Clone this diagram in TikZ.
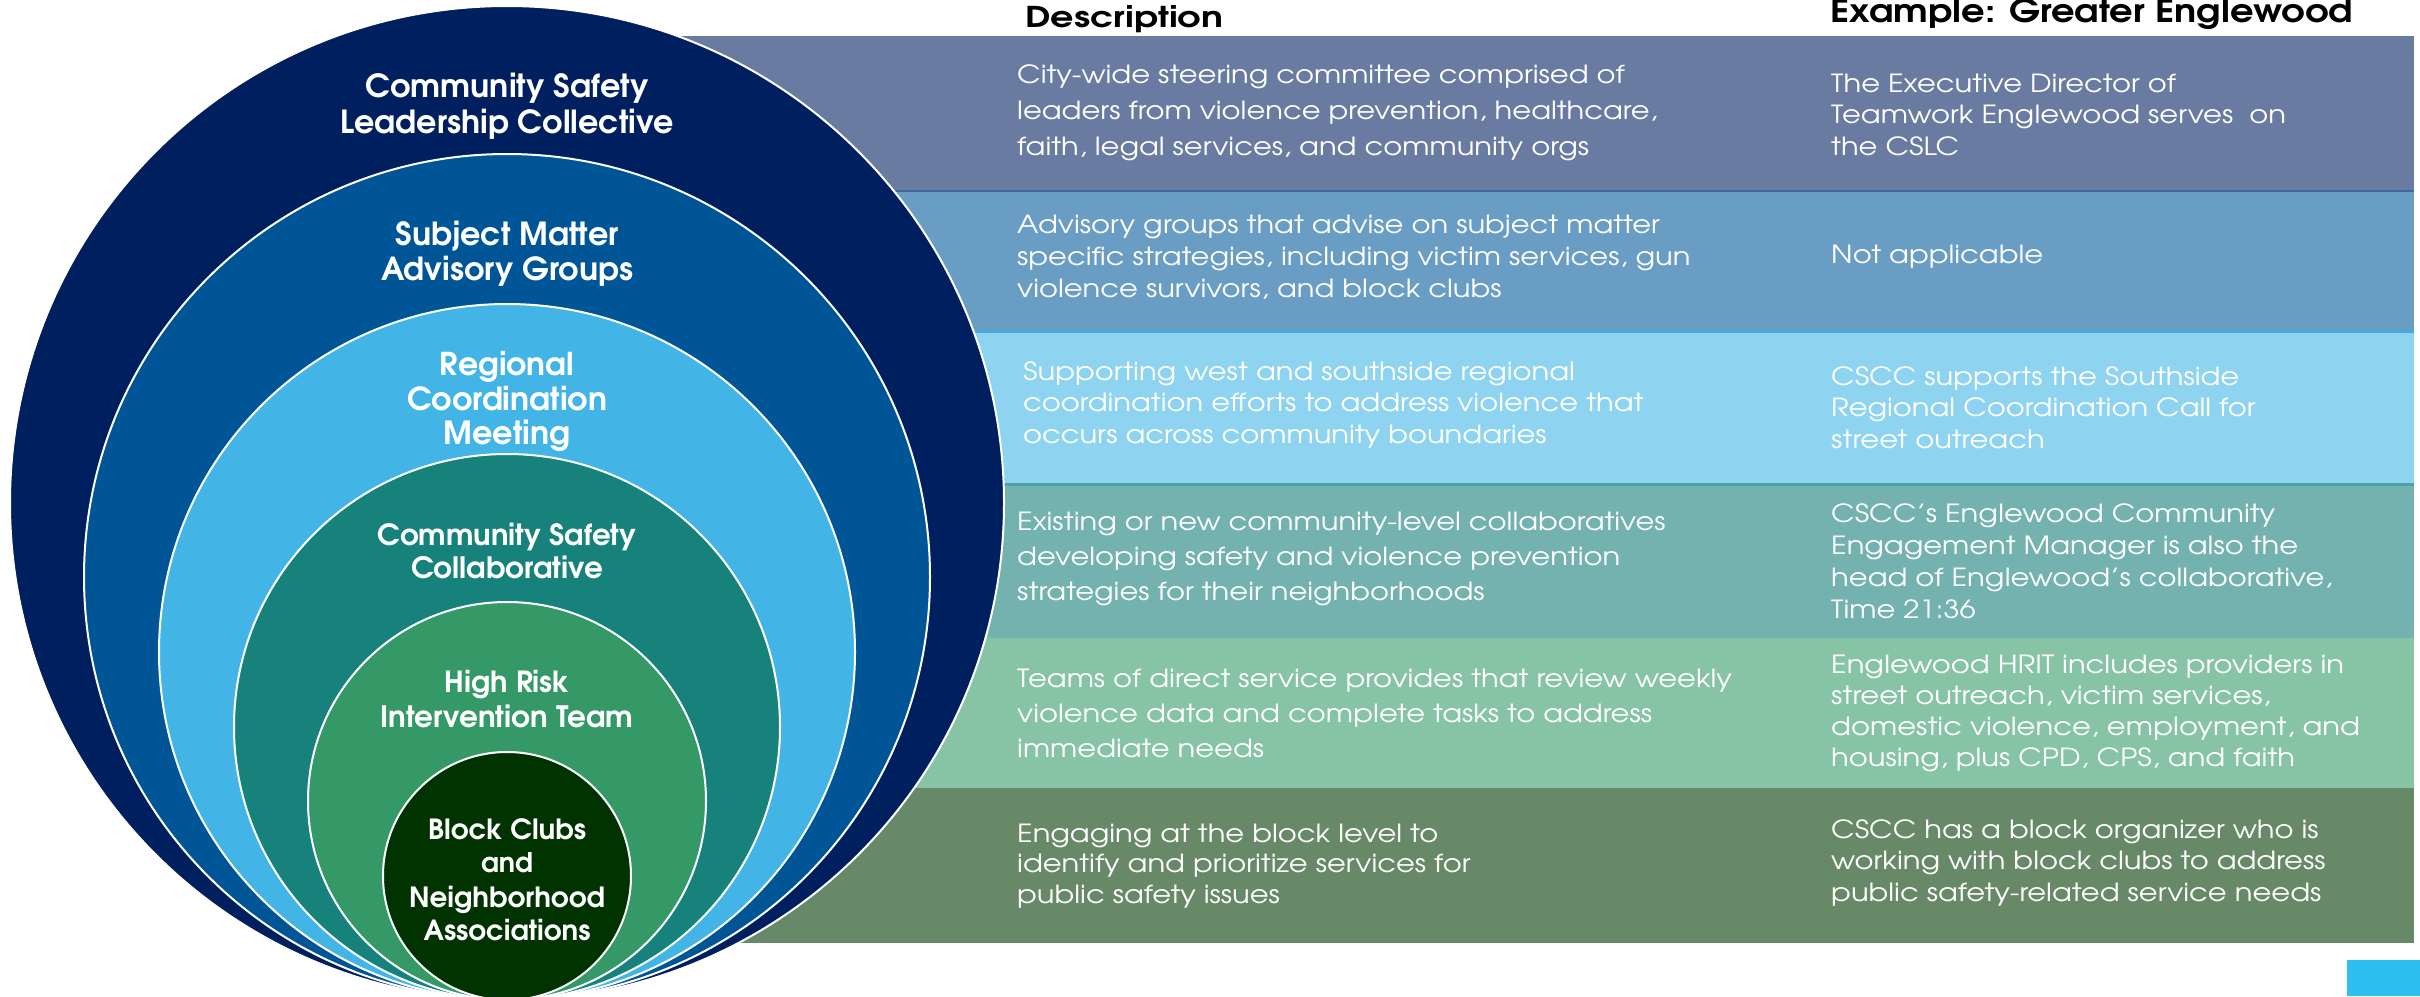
\documentclass[tikz,border=0pt]{standalone}
\usepackage{graphicx}
\usepackage{fontspec}
\setmainfont{texgyreadventor}[Extension=.otf, UprightFont=*-regular, BoldFont=*-bold, ItalicFont=*-italic, BoldItalicFont=*-bolditalic]
\newfontfamily\bodyfont{texgyreadventor}[Extension=.otf, UprightFont=*-regular, BoldFont=*-bold, FakeStretch=1.16]
\newcommand\fitw[2]{\resizebox{#1pt}{!}{#2}}
\newcommand\fitwh[3]{\resizebox{#1pt}{#2pt}{#3}}
\definecolor{cA}{HTML}{001F5E}
\definecolor{cB}{HTML}{005597}
\definecolor{cC}{HTML}{42B4E6}
\definecolor{cD}{HTML}{17827B}
\definecolor{cE}{HTML}{349966}
\definecolor{cF}{HTML}{003300}
\definecolor{bA}{HTML}{6A7BA1}
\definecolor{bB}{HTML}{699DC4}
\definecolor{bC}{HTML}{8ED4F1}
\definecolor{bD}{HTML}{73B2AF}
\definecolor{bE}{HTML}{87C4A5}
\definecolor{bF}{HTML}{688968}
\definecolor{lAB}{HTML}{41699B}
\definecolor{lBC}{HTML}{45ABDD}
\definecolor{lCD}{HTML}{4CA0A8}
\definecolor{sq}{HTML}{2CBFF0}
\begin{document}
\begin{tikzpicture}[x=1pt,y=-1pt,
  ring/.style={draw=white, line width=2pt},
  lbl/.style={text=white, font=\bfseries\fontsize{31}{36}\selectfont, anchor=base, inner sep=0pt},
  dtxt/.style={text=white, font=\bodyfont\fontsize{25}{30}\selectfont, anchor=base west, inner sep=0pt},
  hdr/.style={text=black, font=\bfseries\fontsize{30}{36}\selectfont, anchor=base west, inner sep=0pt}]
\useasboundingbox (0,0) rectangle (2420,996);
\fill[white] (0,0) rectangle (2420,996);
% bands
\fill[bA] (600,36) rectangle (2414,191);
\fill[bB] (600,191) rectangle (2414,331);
\fill[bC] (600,331) rectangle (2414,484);
\fill[bD] (600,484) rectangle (2414,638);
\fill[bE] (600,638) rectangle (2414,788);
\fill[bF] (600,788) rectangle (2414,943);
\draw[lAB, line width=2pt] (600,191) -- (2414,191);
\draw[lBC, line width=3pt] (600,331) -- (2414,331);
\draw[lCD, line width=3pt] (600,484) -- (2414,484);
\fill[sq] (2347,960) rectangle (2420,996);
% circles
\foreach \r/\c in {497/cA,423/cB,348/cC,273/cD,199/cE,124/cF}
  \filldraw[fill=\c, ring] (507,1000-\r) circle[radius=\r pt];
% headers
\node[hdr] (hdesc) at (1025,27) {\fitwh{198}{22}{Description}};
\node[hdr] (hex) at (1830,22) {\fitwh{523}{24}{Example: Greater Englewood}};
% circle labels
\node[lbl] (l1a) at (507,97) {\fitw{283}{Community Safety}};
\node[lbl] (l1b) at (507,133) {\fitw{333}{Leadership Collective}};
\node[lbl] (l2a) at (507,245) {\fitw{223}{Subject Matter}};
\node[lbl] (l2b) at (507,280) {\fitw{252}{Advisory Groups}};
\node[lbl] (l3a) at (507,375) {\fitw{134}{Regional}};
\node[lbl] (l3b) at (507,410) {\fitw{200}{Coordination}};
\node[lbl] (l3c) at (507,444) {\fitw{127}{Meeting}};
\node[lbl] (l4a) at (507,545) {\fitw{259}{Community Safety}};
\node[lbl] (l4b) at (507,578) {\fitw{192}{Collaborative}};
\node[lbl] (l5a) at (507,692) {\fitw{125}{High Risk}};
\node[lbl] (l5b) at (507,727) {\fitw{253}{Intervention Team}};
\node[lbl] (l6a) at (507,839) {\fitw{158}{Block Clubs}};
\node[lbl] (l6b) at (507,872) {\fitw{52}{and}};
\node[lbl] (l6c) at (507,907) {\fitw{196}{Neighborhood}};
\node[lbl] (l6d) at (507,940) {\fitw{167}{Associations}};
% descriptions
\foreach \t [count=\i] in {{City-wide steering committee comprised of},{leaders from violence prevention, healthcare,},{faith, legal services, and community orgs}}
  \node[dtxt] (d1-\i) at (1017,83+36*\i-36) {\t};
\foreach \t [count=\i] in {{Advisory groups that advise on subject matter},{specific strategies, including victim services, gun},{violence survivors, and block clubs}}
  \node[dtxt] (d2-\i) at (1017,233+32*\i-32) {\t};
\foreach \t [count=\i] in {{Supporting west and southside regional},{coordination efforts to address violence that},{occurs across community boundaries}}
  \node[dtxt] (d3-\i) at (1023,380+31.5*\i-31.5) {\t};
\foreach \t [count=\i] in {{Existing or new community-level collaboratives},{developing safety and violence prevention},{strategies for their neighborhoods}}
  \node[dtxt] (d4-\i) at (1017,530+35*\i-35) {\t};
\foreach \t [count=\i] in {{Teams of direct service provides that review weekly},{violence data and complete tasks to address},{immediate needs}}
  \node[dtxt] (d5-\i) at (1017,687+35*\i-35) {\t};
\foreach \t [count=\i] in {{Engaging at the block level to},{identify and prioritize services for},{public safety issues}}
  \node[dtxt] (d6-\i) at (1017,842+30.5*\i-30.5) {\t};
% examples
\foreach \t [count=\i] in {{The Executive Director of},{Teamwork Englewood serves~ on},{the CSLC}}
  \node[dtxt] (e1-\i) at (1831,92+31.5*\i-31.5) {\t};
\node[dtxt] (e2-1) at (1831,263) {Not applicable};
\foreach \t [count=\i] in {{CSCC supports the Southside},{Regional Coordination Call for},{street outreach}}
  \node[dtxt] (e3-\i) at (1831,385+31.5*\i-31.5) {\t};
\foreach \t [count=\i] in {{CSCC’s Englewood Community},{Engagement Manager is also the},{head of Englewood’s collaborative,},{Time 21:36}}
  \node[dtxt] (e4-\i) at (1831,522+32*\i-32) {\t};
\foreach \t [count=\i] in {{Englewood HRIT includes providers in},{street outreach, victim services,},{domestic violence, employment, and},{housing, plus CPD, CPS, and faith}}
  \node[dtxt] (e5-\i) at (1831,673+31.3*\i-31.3) {\t};
\foreach \t [count=\i] in {{CSCC has a block organizer who is},{working with block clubs to address},{public safety-related service needs}}
  \node[dtxt] (e6-\i) at (1831,838+31.5*\i-31.5) {\t};
\end{tikzpicture}
\end{document}
